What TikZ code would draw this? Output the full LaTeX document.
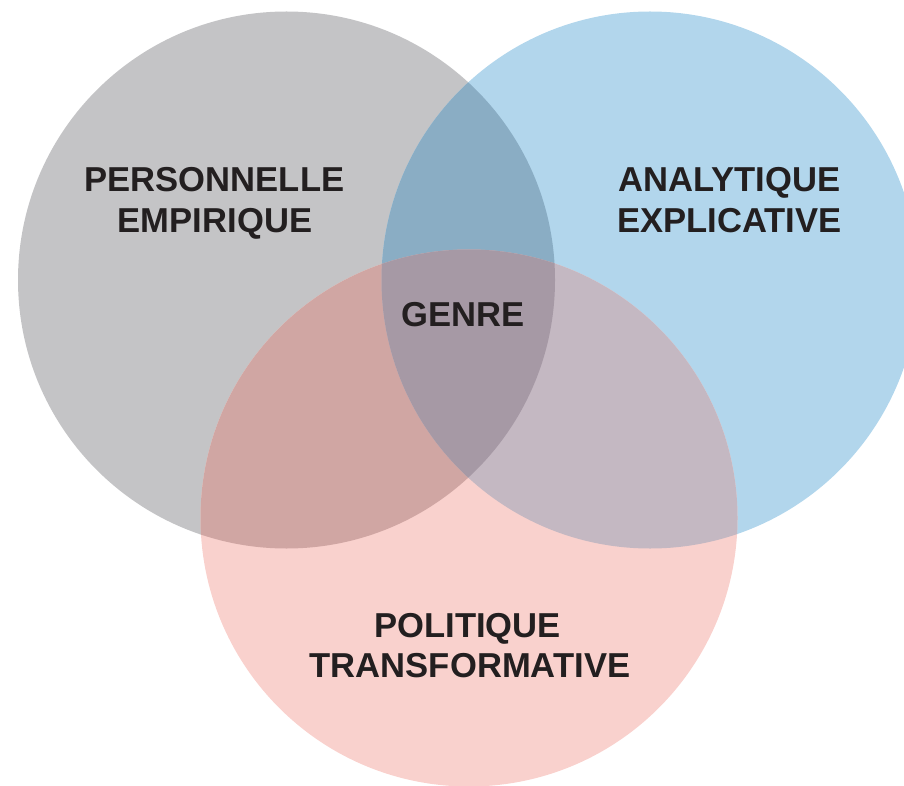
\documentclass[tikz,border=0pt]{standalone}
\usepackage{fontspec}
\setmainfont{Liberation Sans}
\definecolor{cgray}{HTML}{C4C4C6}
\definecolor{cblue}{HTML}{B2D6EC}
\definecolor{cpink}{HTML}{F9D1CD}
\definecolor{cgb}{HTML}{8AADC4}
\definecolor{cgp}{HTML}{D0A6A3}
\definecolor{cbp}{HTML}{C4B8C2}
\definecolor{cgbp}{HTML}{A699A5}
\definecolor{ctext}{HTML}{231F20}
\tikzset{
  lbl/.style={anchor=base, inner sep=0pt, text=ctext, font=\fontsize{34.6}{40}\selectfont\bfseries},
}
\begin{document}
\begin{tikzpicture}[x=1pt,y=-1pt]
\useasboundingbox (0,0) rectangle (904,786);
\clip (0,0) rectangle (904,786);
\def\R{268.5}
\coordinate (g) at (286.5,280);
\coordinate (b) at (650,280);
\coordinate (p) at (469,518);
\fill[cgray] (g) circle (\R);
\fill[cblue] (b) circle (\R);
\fill[cpink] (p) circle (\R);
\begin{scope}
  \clip (g) circle (\R);
  \fill[cgb] (b) circle (\R);
  \fill[cgp] (p) circle (\R);
\end{scope}
\begin{scope}
  \clip (b) circle (\R);
  \fill[cbp] (p) circle (\R);
\end{scope}
\begin{scope}
  \clip (g) circle (\R);
  \clip (b) circle (\R);
  \fill[cgbp] (p) circle (\R);
\end{scope}
\node[lbl] (pers) at (214.5,192) {PERSONNELLE};
\node[lbl] (emp) at (215,233) {EMPIRIQUE};
\node[lbl] (ana) at (729.5,192) {ANALYTIQUE};
\node[lbl] (expl) at (729.5,233) {EXPLICATIVE};
\node[lbl] (genre) at (463,326) {GENRE};
\node[lbl] (pol) at (467.5,637) {POLITIQUE};
\node[lbl] (trans) at (470,677) {TRANSFORMATIVE};
\end{tikzpicture}
\end{document}
